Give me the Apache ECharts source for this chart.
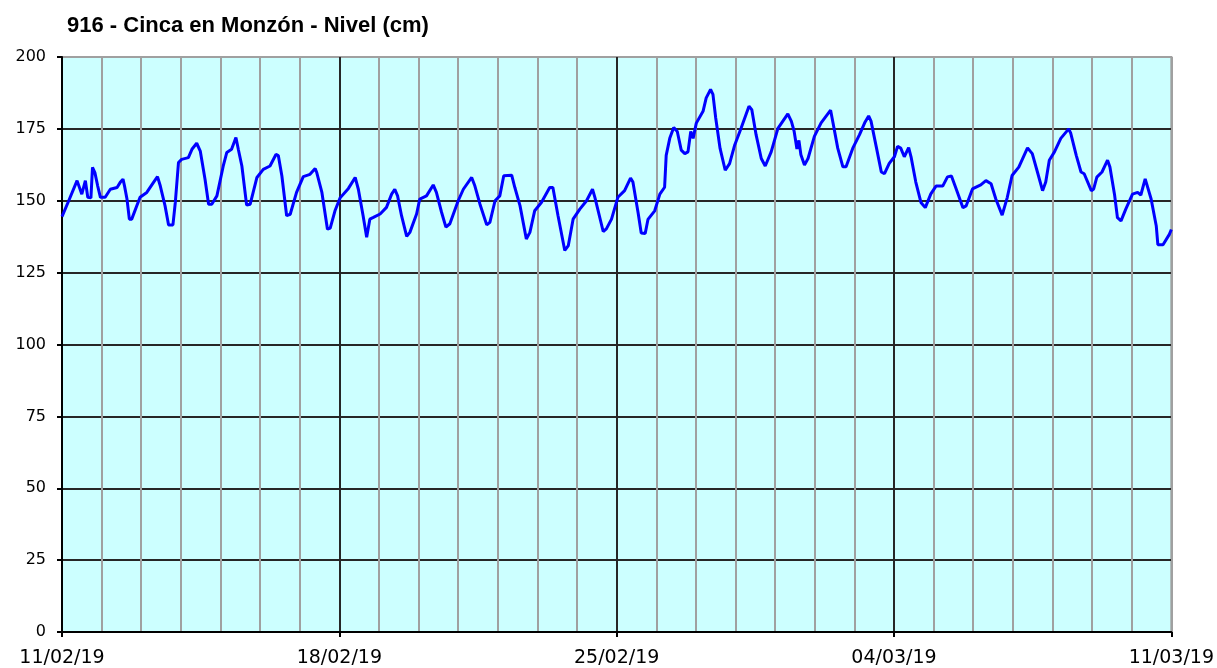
<!DOCTYPE html>
<html>
<head>
<meta charset="utf-8">
<script src="https://cdn.jsdelivr.net/npm/echarts@6/dist/echarts.min.js"></script>
<style>
  html, body { margin: 0; padding: 0; background: #fff; }
  #chart { width: 1217px; height: 668px; }
</style>
</head>
<body>
<div id="chart"></div>
<script>
// days since 11/02/19 00:00
const dayOffsets = [
  0.00, 0.17, 0.38, 0.50, 0.59, 0.65, 0.73, 0.77, 0.83, 0.90, 0.97,
  1.09, 1.22, 1.39, 1.47, 1.54, 1.58, 1.64, 1.70, 1.76, 1.97,
  2.14, 2.31, 2.41, 2.48, 2.60, 2.69, 2.80, 2.86, 2.94,
  3.02, 3.19, 3.28, 3.40, 3.49, 3.61, 3.70, 3.78, 3.91,
  4.07, 4.16, 4.28, 4.39, 4.45, 4.54, 4.66, 4.75, 4.92,
  5.08, 5.25, 5.40, 5.46, 5.55, 5.67, 5.76, 5.92,
  6.09, 6.26, 6.39, 6.43, 6.56, 6.70, 6.77, 6.89,
  7.02, 7.23, 7.40, 7.48, 7.60, 7.69, 7.77, 7.86,
  8.03, 8.19, 8.32, 8.40, 8.47, 8.57, 8.70, 8.78, 8.95,
  9.03, 9.20, 9.37, 9.45, 9.58, 9.69, 9.79,
  10.00, 10.13, 10.34, 10.42, 10.55, 10.72, 10.80, 10.93,
  11.05, 11.15, 11.35, 11.43, 11.56, 11.72, 11.81, 11.93,
  12.10, 12.31, 12.39, 12.52, 12.69, 12.78, 12.90,
  13.07, 13.24, 13.39, 13.45, 13.66, 13.74, 13.87,
  14.03, 14.20, 14.35, 14.41, 14.54, 14.62, 14.72, 14.79, 14.96,
  15.09, 15.21, 15.25, 15.34, 15.44, 15.53, 15.63, 15.72, 15.80, 15.87, 15.93,
  16.01, 16.18, 16.26, 16.37, 16.43, 16.50, 16.61, 16.74, 16.85, 16.98,
  17.14, 17.34, 17.41, 17.52, 17.65, 17.75, 17.90,
  18.07, 18.32, 18.41, 18.48, 18.55, 18.60, 18.65, 18.74, 18.83, 18.99,
  19.16, 19.40, 19.46, 19.58, 19.71, 19.79, 19.96,
  20.13, 20.26, 20.36, 20.42, 20.55, 20.68, 20.76, 20.88,
  21.01, 21.09, 21.17, 21.26, 21.37, 21.43, 21.55, 21.68, 21.79, 21.93,
  22.06, 22.23, 22.35, 22.45, 22.57, 22.74, 22.82, 22.98,
  23.19, 23.32, 23.45, 23.57, 23.73, 23.86, 23.98,
  24.15, 24.37, 24.49, 24.62, 24.75, 24.83, 24.92,
  25.05, 25.21, 25.41, 25.46, 25.60, 25.72, 25.80, 25.98,
  26.04, 26.12, 26.25, 26.39, 26.45, 26.57, 26.64, 26.73, 26.85,
  27.02, 27.15, 27.23, 27.34, 27.49, 27.62, 27.66, 27.79, 27.95, 28.00
]

// nivel (cm)
const levels = [
  144.5, 150, 157, 152.3, 157, 151.2, 151, 161.6, 159.8, 155.2, 151.2,
  151.2, 154, 154.6, 156.4, 157.5, 155, 150.6, 143.6, 143.6, 151.2,
  152.9, 156.4, 158.4, 155.2, 148.3, 141.6, 141.6, 149.4, 163.3,
  164.4, 165, 167.9, 170, 167.3, 157.5, 148.8, 148.8, 151.7,
  162.1, 166.8, 167.9, 172, 167.9, 162.1, 148.5, 148.8, 158.1,
  160.9, 162.1, 166.1, 165.7, 158.6, 144.8, 145.3, 152.9,
  158.4, 159.2, 161.2, 159.8, 152.9, 140.1, 140.5, 146.5,
  151, 154.3, 158.1, 154, 144.8, 137.3, 143.6, 144.2,
  145.4, 147.7, 152.3, 154, 151.7, 144.8, 137.6, 139, 145.4,
  150.6, 151.7, 155.5, 152.9, 146, 140.8, 142,
  150, 154, 158.1, 155.2, 148.8, 141.6, 142.5, 150,
  151.7, 158.7, 158.9, 154.6, 148.3, 136.7, 139, 146.5,
  149.4, 154.6, 154.6, 144.8, 132.7, 134.4, 143.6,
  147.1, 150, 154, 151.2, 139.3, 140.2, 143.6,
  151.2, 153.5, 157.9, 156.5, 145.9, 138.8, 138.6, 143.5, 146.5,
  152.3, 154.7, 165.8, 171.7, 175.5, 174.1, 167.6, 166.4, 167, 174.1, 171.7,
  177, 181.1, 185.8, 188.7, 187, 178.8, 168.2, 160.6, 162.9, 169.4,
  175.2, 182.9, 181.7, 172.9, 164.7, 162.1, 167,
  175.2, 180.2, 177.6, 174.1, 168, 171, 166, 162.4, 164.7, 172.4,
  177.1, 181.5, 177.1, 168.3, 161.8, 161.8, 168.3,
  173, 177.1, 179.5, 177.7, 168.9, 160, 159.4, 163,
  165.3, 168.9, 168.3, 165.3, 168.5, 165.3, 156.5, 149.4, 147.6, 152.4,
  155.1, 155.1, 158.3, 158.6, 154.1, 147.6, 148.2, 154.1,
  155.5, 157, 155.9, 150.6, 145, 151.2, 158.8,
  161.7, 168.4, 166.4, 160, 153.5, 156.5, 164.1,
  167, 171.7, 175, 173.5, 165.8, 160, 159.4, 153.5,
  154.1, 158.2, 160, 164.1, 161.7, 151.8, 144.1, 143, 147.1,
  152.3, 152.9, 152, 157.6, 150.6, 141.2, 134.7, 134.7, 138.3, 140
]

const weekLabels = ['11/02/19', '18/02/19', '25/02/19', '04/03/19', '11/03/19']
const titleText = '916 - Cinca en Monzón - Nivel (cm)'

const chart = echarts.init(document.getElementById('chart'), null, { renderer: 'canvas' })

const darkLine = '#262626'
const greyLine = '#a0a0a0'

chart.setOption({
  animation: false,
  backgroundColor: '#ffffff',
  title: {
    text: titleText,
    left: 62,
    top: 10,
    textStyle: { fontFamily: 'Liberation Sans', fontWeight: 'bold', fontSize: 22, color: '#000' },
  },
  grid: {
    left: 62,
    top: 57,
    width: 1110,
    height: 577,
    show: true,
    backgroundColor: '#ccffff',
    borderColor: greyLine,
    borderWidth: 2,
  },
  xAxis: {
    type: 'value',
    min: 0,
    max: 28,
    interval: 7,
    axisLine: { show: true, onZero: false, lineStyle: { color: '#000', width: 2 } },
    axisTick: { show: true, length: 5, lineStyle: { color: '#000', width: 2 } },
    axisLabel: {
      margin: 17,
      fontFamily: 'DejaVu Sans',
      fontSize: 19,
      color: '#000',
      formatter: (val) => weekLabels[Math.round(val / 7)],
    },
    splitLine: {
      show: true,
      lineStyle: { color: [darkLine, darkLine, darkLine, darkLine, greyLine], width: 2 },
    },
    minorTick: { show: false, splitNumber: 7 },
    minorSplitLine: { show: true, lineStyle: { color: greyLine, width: 2 } },
  },
  yAxis: {
    type: 'value',
    min: 0,
    max: 200,
    interval: 25,
    axisLine: { show: true, lineStyle: { color: '#000', width: 2 } },
    axisTick: { show: true, length: 5, lineStyle: { color: '#000', width: 2 } },
    axisLabel: { margin: 16, fontFamily: 'DejaVu Sans', fontSize: 16, color: '#000' },
    splitLine: {
      show: true,
      lineStyle: {
        color: [darkLine, darkLine, darkLine, darkLine, darkLine, darkLine, darkLine, darkLine, greyLine],
        width: 2,
      },
    },
  },
  series: [
    {
      type: 'line',
      data: dayOffsets.map((d, ii) => [d, levels[ii]]),
      symbol: 'none',
      lineStyle: { color: '#0000ff', width: 3 },
      z: 5,
    },
  ],
})
</script>
</body>
</html>
